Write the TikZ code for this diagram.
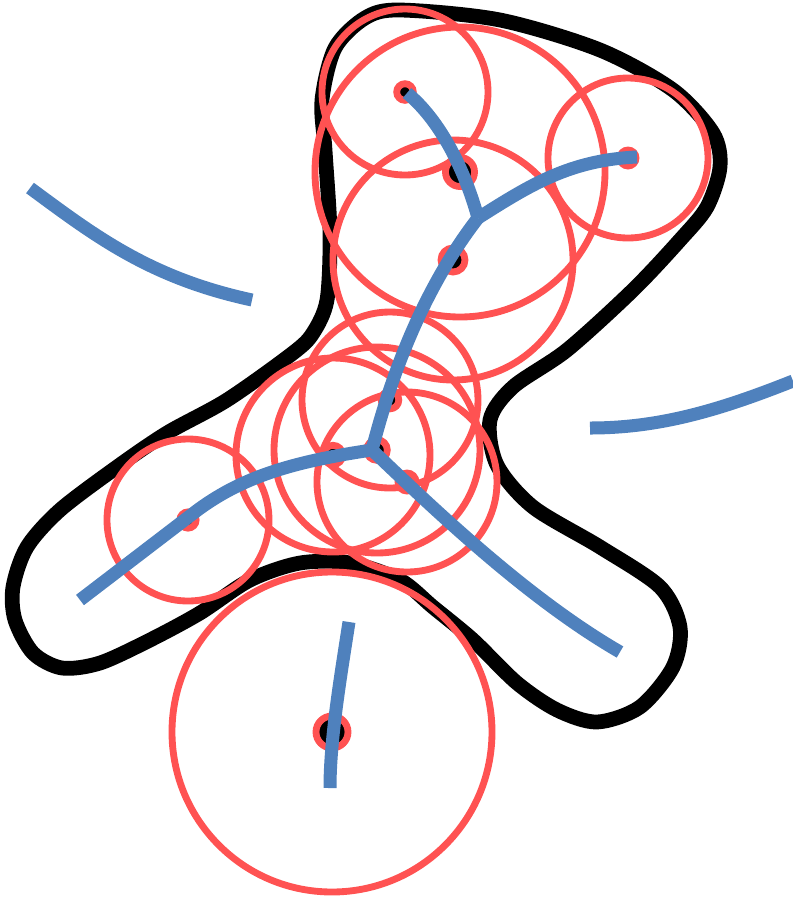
\documentclass[tikz,border=0pt]{standalone}
\definecolor{diskred}{RGB}{255,82,82}
\definecolor{axisblue}{RGB}{79,129,189}
\begin{document}
\begin{tikzpicture}[x=0.02cm,y=-0.02cm,
  outline/.style={line width=8.4pt, black},
  disk/.style={line width=3.9pt, diskred},
  centre/.style={line width=3.9pt, diskred, fill=black},
  axis/.style={line width=7.4pt, axisblue}]
\useasboundingbox (0,0) rectangle (793,897);

% boundary of the shape
\draw[outline] plot[smooth cycle] coordinates {
  (400,10) (500,20) (600,50) (673,90) (713,133) (720,167) (707,207) (680,240)
  (633,290) (567,350) (513,387) (490,420) (497,465) (533,507) (600,547)
  (660,587) (680,627) (673,667) (640,707) (597,722) (557,710) (517,683)
  (473,640) (433,607) (400,580) (350,563) (300,563) (250,580) (200,613)
  (150,640) (100,663) (62,668) (33,653) (15,620) (13,587) (27,547) (60,510)
  (117,467) (167,433) (227,400) (293,353) (313,333) (327,300) (330,233)
  (325,150) (322,100) (335,48) (365,18)};

% maximal disks and their centres
\foreach \x/\y/\r in {405/92/83, 460/172/145, 453/260/120, 628/158/80,
    390/400/88, 333/455/97, 377/450/103, 407/482/90, 188/520/81, 332/732/160}
  \draw[disk] (\x,\y) circle [radius=\r];
\foreach \x/\y/\r in {405/92/83, 460/172/145, 453/260/120, 628/158/80,
    390/400/88, 333/455/97, 377/450/103, 407/482/90, 188/520/81, 332/732/160}
  \draw[centre] (\x,\y) circle [radius=0.1*\r];

% medial axis
\coordinate (top) at (478,218);
\coordinate (mid) at (372,450);
\draw[axis] (407,93) .. controls (440,120) and (465,170) .. (top);
\draw[axis] (top) .. controls (530,185) and (570,160) .. (637,157);
\draw[axis] (top) .. controls (430,280) and (395,360) .. (mid);
\draw[axis] (mid) .. controls (290,462) and (240,478) .. (195,512) -- (80,600);
\draw[axis] (mid) .. controls (440,515) and (530,600) .. (620,652);
\draw[axis] (349,622) .. controls (340,680) and (330,740) .. (330,788);

% outer pieces
\draw[axis] (30,188) .. controls (95,236) and (150,278) .. (252,300);
\draw[axis] (590,428) .. controls (660,428) and (720,410) .. (793,381);
\end{tikzpicture}
\end{document}
